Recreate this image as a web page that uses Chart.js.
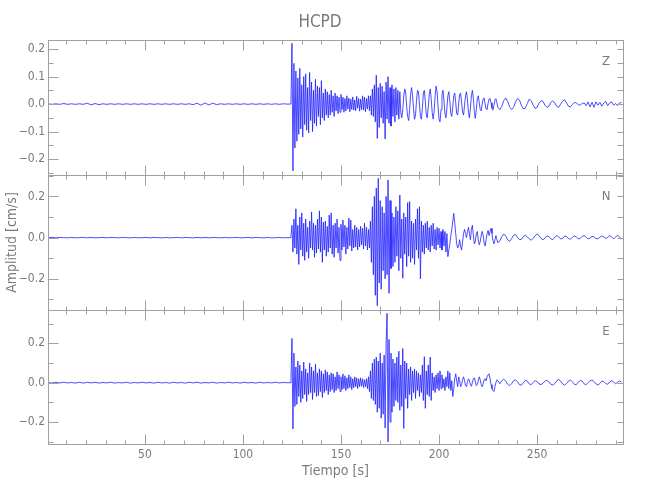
<!DOCTYPE html>
<html>
<head>
<meta charset="utf-8">
<script src="https://cdn.jsdelivr.net/npm/chart.js@4/dist/chart.umd.min.js"></script>
<style>
    html, body { margin: 0; padding: 0; background: #fff; }
    #wrap { position: relative; width: 650px; height: 500px; }
    #wrap canvas { position: absolute; left: 0; }
</style>
</head>
<body>
<div id="wrap">
    <canvas id="chartZ" width="650" height="180" style="top:0px"></canvas>
    <canvas id="chartN" width="650" height="145" style="top:170px"></canvas>
    <canvas id="chartE" width="650" height="195" style="top:305px"></canvas>
</div>
<script>
// time axis (s)
const X_MIN = 0.6;
const X_MAX = 293.8;
const xTicks = [50, 100, 150, 200, 250];

// each trace is sampled in three parts: pre-event (from 0.6 s, every 2 s),
// main event (from 124 s, every 0.5 s) and coda (from 231 s, every 1 s)
const QUIET_T0 = 0.6, QUIET_DT = 2;
const BURST_T0 = 124, BURST_DT = 0.5;
const CODA_T0 = 231, CODA_DT = 1;

// Z component (cm/s)
const zQuiet = [
    0.001, -0.001, 0.001, -0.001, 0.002, -0.001, 0.001, -0.001, 0.001, -0.001,
    0.003, -0.003, 0.002, -0.002, 0.001, -0.001, 0.001, -0.001, 0.001, -0.001,
    0.001, -0.001, 0.001, -0.001, 0.001, -0.001, 0.001, -0.001, 0.001, -0.001,
    0.001, -0.001, 0.001, -0.001, 0.001, -0.001, 0.001, -0.002, 0.003, -0.004,
    0.004, -0.003, 0.003, -0.002, 0.001, -0.001, 0.001, -0.001, 0.001, -0.001,
    0.001, -0.001, 0.001, -0.001, 0.001, -0.001, 0.001, -0.001, 0.001, -0.001,
    0.001, 0.000
];
const zBurst = [
    0.000, 0.004, 0.221, -0.243, 0.148, -0.160, 0.120, -0.135, 0.095, -0.110,
    0.130, -0.090, 0.070, -0.120, 0.100, -0.075, 0.110, -0.095, 0.060, -0.105,
    0.115, -0.060, 0.080, -0.100, 0.050, -0.070, 0.090, -0.080, 0.065, -0.045,
    0.060, -0.075, 0.085, -0.050, 0.040, -0.060, 0.055, -0.040, 0.045, -0.050,
    0.035, -0.040, 0.050, -0.030, 0.030, -0.045, 0.040, -0.025, 0.030, -0.035,
    0.025, -0.030, 0.035, -0.020, 0.025, -0.030, 0.020, -0.025, 0.030, -0.018,
    0.022, -0.028, 0.018, -0.020, 0.026, -0.022, 0.015, -0.024, 0.028, -0.015,
    0.020, -0.026, 0.018, -0.020, 0.030, -0.022, 0.025, -0.028, 0.020, -0.018,
    0.030, -0.025, 0.030, -0.040, 0.055, -0.045, 0.070, -0.065, 0.105, -0.125,
    0.060, -0.085, 0.075, -0.050, 0.065, -0.070, 0.045, -0.127, 0.080, -0.055,
    0.100, -0.070, 0.060, -0.080, 0.070, -0.045, 0.055, -0.065, 0.060, -0.040,
    0.050, -0.055, 0.045, -0.030, -0.050, -0.020, 0.030, 0.055, 0.040, -0.010,
    -0.045, -0.060, -0.020, 0.035, 0.060, 0.030, -0.020, -0.055, -0.040, 0.010,
    0.050, 0.045, 0.000, -0.045, -0.055, -0.015, 0.040, 0.050, 0.010, -0.040,
    -0.050, -0.010, 0.035, 0.055, 0.020, -0.030, -0.055, -0.025, 0.030, 0.065,
    0.045, -0.010, -0.055, -0.065, -0.020, 0.035, 0.050, 0.015, -0.035, -0.050,
    -0.015, 0.030, 0.045, 0.010, -0.035, -0.045, -0.010, 0.030, 0.040, 0.005,
    -0.035, -0.040, 0.000, 0.035, 0.040, 0.005, -0.030, -0.040, -0.005, 0.030,
    0.045, 0.015, -0.030, -0.050, -0.015, 0.030, 0.050, 0.020, -0.030, -0.052,
    -0.020, 0.020, 0.030, 0.005, -0.020, -0.025, 0.000, 0.020, 0.022, 0.000,
    -0.018, -0.020, 0.002, 0.018, 0.020, 0.005, -0.015, -0.022, -0.005, 0.015,
    0.020, 0.005, -0.012
];
const zCoda = [
    -0.020, -0.008, 0.012, 0.022, 0.010, -0.010, -0.020, -0.012, 0.008, 0.020,
    0.015, -0.005, -0.018, -0.015, 0.002, 0.018, 0.012, -0.004, -0.016, -0.012,
    0.004, 0.012, 0.010, -0.004, -0.012, -0.008, 0.006, 0.012, 0.004, -0.008,
    -0.012, 0.000, 0.010, 0.016, 0.004, -0.008, -0.010, -0.002, 0.006, 0.004,
    -0.002, -0.004, 0.002, 0.004, -0.006, 0.008, -0.010, 0.006, -0.012, 0.008,
    -0.004, 0.006, -0.008, 0.004, 0.010, -0.006, 0.004, 0.008, -0.004, 0.002,
    -0.006, 0.004, 0.006
];

// N component (cm/s)
const nQuiet = [
    0.000, 0.001, -0.001, 0.001, 0.000, -0.001, 0.001, -0.001, 0.000, 0.001,
    -0.001, 0.001, -0.001, 0.000, 0.001, -0.001, 0.001, 0.000, -0.001, 0.001,
    0.000, -0.001, 0.001, -0.001, 0.000, 0.001, -0.001, 0.001, 0.000, -0.001,
    0.001, -0.001, 0.000, 0.001, -0.001, 0.001, 0.000, -0.001, 0.001, -0.001,
    0.001, -0.001, 0.001, 0.000, -0.001, 0.001, -0.001, 0.000, 0.001, -0.001,
    0.000, 0.001, -0.001, 0.001, 0.000, -0.001, 0.001, -0.001, 0.000, 0.001,
    -0.001, 0.000
];
const nBurst = [
    0.000, 0.010, 0.060, -0.070, 0.090, -0.050, 0.140, -0.080, 0.060, -0.130,
    0.100, -0.060, 0.120, -0.090, 0.070, -0.110, 0.090, -0.070, 0.050, -0.100,
    0.080, -0.050, 0.125, -0.060, 0.070, -0.095, 0.060, -0.075, 0.090, -0.055,
    0.130, -0.070, 0.100, -0.120, 0.075, -0.060, 0.080, -0.090, 0.055, -0.070,
    0.110, -0.050, 0.120, -0.080, 0.060, -0.095, 0.070, -0.050, 0.090, -0.075,
    0.050, -0.110, 0.065, -0.060, 0.085, -0.045, 0.060, -0.080, 0.050, -0.055,
    0.095, -0.040, 0.085, -0.065, 0.040, -0.050, 0.060, -0.045, 0.050, -0.060,
    0.040, -0.045, 0.055, -0.035, 0.045, -0.055, 0.070, -0.040, 0.050, -0.060,
    0.040, -0.050, 0.080, -0.120, 0.150, -0.180, 0.200, -0.280, 0.240, -0.330,
    0.288, -0.220, 0.180, -0.250, 0.150, -0.160, 0.120, -0.200, 0.200, -0.180,
    0.280, -0.270, 0.180, -0.150, 0.120, -0.140, 0.100, -0.120, 0.150, -0.090,
    0.130, -0.160, 0.207, -0.100, 0.090, -0.197, 0.120, -0.080, 0.100, -0.140,
    0.170, -0.090, 0.175, -0.120, 0.080, -0.100, 0.070, -0.130, 0.090, -0.060,
    0.140, -0.100, 0.150, -0.200, 0.080, -0.070, 0.060, -0.080, 0.070, -0.050,
    0.080, -0.060, 0.050, -0.070, 0.060, -0.040, 0.070, -0.055, 0.040, -0.060,
    0.050, -0.035, 0.045, -0.050, 0.030, -0.060, 0.040, -0.040, 0.030, -0.070,
    0.020, -0.092, -0.060, -0.030, 0.010, 0.040, 0.080, 0.118, 0.070, 0.020,
    -0.030, -0.050, -0.040, -0.010, -0.045, -0.060, -0.020, 0.020, 0.040, 0.020,
    0.000, 0.030, 0.050, 0.020, -0.010, 0.040, 0.060, 0.010, -0.030, -0.020,
    0.020, 0.030, -0.010, -0.035, -0.020, 0.010, 0.030, 0.010, -0.025, -0.040,
    -0.010, 0.020, 0.035, 0.010, 0.030, 0.045, 0.020, -0.015, -0.030, -0.010,
    0.010, -0.010, -0.025
];
const nCoda = [
    -0.015, 0.005, 0.018, 0.008, -0.010, -0.018, -0.005, 0.012, 0.015, 0.002,
    -0.010, -0.008, 0.006, 0.012, 0.004, -0.006, -0.012, -0.004, 0.010, 0.018,
    0.010, -0.004, -0.010, -0.002, 0.008, 0.006, -0.006, -0.010, 0.002, 0.010,
    0.004, -0.006, -0.004, 0.008, 0.006, -0.004, -0.008, 0.002, 0.008, 0.004,
    -0.006, -0.004, 0.006, 0.010, 0.002, -0.006, -0.002, 0.006, 0.004, -0.004,
    -0.006, 0.002, 0.008, 0.004, -0.004, 0.002, 0.010, 0.004, -0.006, 0.002,
    0.012, 0.004, -0.008
];

// E component (cm/s)
const eQuiet = [
    0.001, -0.002, 0.002, -0.001, 0.002, -0.001, 0.001, -0.002, 0.002, -0.002,
    0.002, -0.001, 0.002, -0.002, 0.001, -0.001, 0.002, -0.002, 0.001, -0.001,
    0.002, -0.002, 0.001, -0.001, 0.002, -0.001, 0.001, -0.002, 0.002, -0.001,
    0.001, -0.002, 0.002, -0.001, 0.001, -0.002, 0.002, -0.001, 0.002, -0.002,
    0.001, -0.001, 0.002, -0.002, 0.001, -0.001, 0.002, -0.001, 0.001, -0.002,
    0.002, -0.001, 0.001, -0.002, 0.002, -0.001, 0.001, -0.001, 0.002, -0.001,
    0.001, 0.000
];
const eBurst = [
    0.000, 0.020, 0.225, -0.235, 0.150, -0.120, 0.080, -0.110, 0.110, -0.070,
    0.090, -0.100, 0.060, -0.080, 0.105, -0.060, 0.070, -0.095, 0.050, -0.060,
    0.100, -0.050, 0.080, -0.085, 0.060, -0.050, 0.095, -0.070, 0.050, -0.065,
    0.070, -0.045, 0.060, -0.075, 0.045, -0.050, 0.065, -0.040, 0.055, -0.060,
    0.040, -0.045, 0.050, -0.035, 0.045, -0.050, 0.030, -0.040, 0.055, -0.030,
    0.040, -0.045, 0.030, -0.035, 0.045, -0.030, 0.035, -0.040, 0.025, -0.030,
    0.040, -0.025, 0.030, -0.035, 0.020, -0.025, 0.030, -0.020, 0.025, -0.030,
    0.020, -0.020, 0.025, -0.018, 0.020, -0.025, 0.015, -0.020, 0.020, -0.030,
    0.030, -0.045, 0.060, -0.080, 0.100, -0.090, 0.120, -0.110, 0.130, -0.150,
    0.110, -0.130, 0.150, -0.180, 0.100, -0.160, 0.140, -0.230, 0.200, 0.352,
    -0.300, 0.220, -0.200, 0.150, -0.150, 0.120, -0.120, 0.100, -0.090, 0.130,
    -0.100, 0.160, -0.140, 0.090, -0.120, 0.174, -0.232, 0.110, -0.080, 0.100,
    -0.130, 0.070, -0.060, 0.080, -0.090, 0.060, -0.050, 0.070, -0.080, 0.060,
    -0.040, 0.050, -0.070, 0.040, -0.050, 0.090, -0.090, 0.132, -0.130, 0.060,
    -0.060, 0.090, -0.070, 0.130, -0.090, 0.050, -0.040, 0.030, -0.050, 0.040,
    -0.030, 0.050, -0.040, 0.060, -0.030, 0.040, -0.025, 0.020, -0.040, 0.030,
    -0.020, 0.060, -0.030, 0.050, -0.040, 0.010, -0.070, -0.030, 0.020, 0.045,
    0.010, -0.020, 0.030, 0.010, -0.020, -0.010, 0.015, 0.030, 0.010, -0.015,
    -0.020, 0.005, 0.020, 0.010, -0.010, -0.018, 0.000, 0.020, 0.025, 0.005,
    -0.015, -0.010, 0.010, 0.030, 0.015, -0.010, -0.020, -0.005, 0.015, 0.020,
    0.010, 0.030, 0.040, 0.045, 0.020, -0.010, -0.030, -0.040, -0.045, -0.020,
    0.000, 0.015, 0.010
];
const eCoda = [
    -0.005, 0.010, 0.018, 0.008, -0.008, -0.015, -0.005, 0.010, 0.015, 0.005,
    -0.010, -0.012, 0.000, 0.012, 0.008, -0.006, -0.010, 0.002, 0.010, 0.006,
    -0.006, -0.010, -0.002, 0.008, 0.012, 0.004, -0.008, -0.012, -0.004, 0.010,
    0.016, 0.008, -0.006, -0.012, -0.004, 0.008, 0.014, 0.004, -0.008, -0.010,
    0.002, 0.012, 0.008, -0.006, -0.010, 0.000, 0.010, 0.014, 0.006, -0.006,
    -0.012, -0.004, 0.008, 0.006, -0.004, -0.008, 0.004, 0.010, 0.004, -0.006,
    0.002, 0.008, 0.004
];

// amplitude ranges and labelled ticks per panel
const zRange = [-0.258, 0.233], zTicks = [-0.2, -0.1, 0.0, 0.1, 0.2];
const nRange = [-0.351, 0.304], nTicks = [-0.2, 0.0, 0.2];
const eRange = [-0.311, 0.369], eTicks = [-0.2, 0.0, 0.2];

const AXIS_COLOR = '#a0a0a0';
const TEXT_COLOR = '#7a7a7a';
const LINE_COLOR = 'rgb(30,30,255)';
const FONT = '"Liberation Sans Narrow", "DejaVu Sans Condensed", sans-serif';

function series(parts) {
    const pts = [];
    parts.forEach(function (p) {
        p[2].forEach(function (v, i) {
            pts.push({ x: p[0] + i * p[1], y: v });
        });
    });
    return pts;
}

function fmt(v) {
    return (v < 0 ? '\u2212' : '') + Math.abs(v).toFixed(1);
}

// box with inward tick marks on all four sides, component letter, optional heading
const seisFrame = {
    id: 'seisFrame',
    afterDraw: function (chart, args, o) {
        const ctx = chart.ctx;
        const a = chart.chartArea;
        const xs = chart.scales.x, ys = chart.scales.y;
        const L = Math.round(a.left) + 0.5, R = Math.round(a.right) + 0.5;
        const T = Math.round(a.top) + 0.5, B = Math.round(a.bottom) + 0.5;
        ctx.save();
        ctx.strokeStyle = AXIS_COLOR;
        ctx.lineWidth = 1;
        ctx.strokeRect(L, T, R - L, B - T);
        ctx.beginPath();
        for (let t = 10; t < X_MAX; t += 10) {
            const px = Math.round(xs.getPixelForValue(t)) + 0.5;
            const len = (t % 50 === 0) ? 10 : 4;
            ctx.moveTo(px, T); ctx.lineTo(px, T + len);
            ctx.moveTo(px, B); ctx.lineTo(px, B - len);
        }
        const step = o.minorStep;
        for (let k = Math.ceil(ys.min / step); k * step <= ys.max; k++) {
            const v = k * step;
            const py = Math.round(ys.getPixelForValue(v)) + 0.5;
            const major = o.ticks.some(function (m) { return Math.abs(m - v) < 1e-6; });
            ctx.moveTo(L, py); ctx.lineTo(L + (major ? 10 : 5), py);
            ctx.moveTo(R, py); ctx.lineTo(R - 6, py);
        }
        ctx.stroke();
        ctx.fillStyle = TEXT_COLOR;
        ctx.textAlign = 'center';
        ctx.textBaseline = 'middle';
        ctx.font = '13px ' + FONT;
        ctx.fillText(o.label, a.right - 17, a.top + 22);
        if (o.heading) {
            ctx.font = '17px ' + FONT;
            ctx.fillText(o.heading, 320, 23);
        }
        ctx.restore();
    }
};

function makePanel(id, data, range, ticks, minorStep, label, extra) {
    const bottom = !!extra.bottom;
    return new Chart(document.getElementById(id), {
        type: 'line',
        data: {
            datasets: [{
                data: data,
                borderColor: LINE_COLOR,
                borderWidth: 0.8,
                pointRadius: 0,
                tension: 0,
                fill: false
            }]
        },
        options: {
            responsive: false,
            animation: false,
            events: [],
            layout: { padding: extra.padding },
            plugins: {
                legend: { display: false },
                tooltip: { enabled: false },
                title: { display: false },
                seisFrame: { label: label, ticks: ticks, minorStep: minorStep, heading: extra.heading }
            },
            scales: {
                x: {
                    type: 'linear',
                    min: X_MIN,
                    max: X_MAX,
                    display: bottom,
                    grid: { display: false, drawTicks: false },
                    border: { display: false },
                    afterBuildTicks: function (s) {
                        s.ticks = xTicks.map(function (v) { return { value: v }; });
                    },
                    afterFit: function (s) {
                        if (bottom) s.height = 56;
                        s.paddingLeft = 0;
                        s.paddingRight = 0;
                    },
                    ticks: {
                        color: TEXT_COLOR,
                        font: { family: FONT, size: 12 },
                        padding: 4,
                        maxRotation: 0
                    },
                    title: {
                        display: bottom,
                        text: 'Tiempo [s]',
                        color: TEXT_COLOR,
                        font: { family: FONT, size: 14 },
                        padding: { top: 0, bottom: 20 }
                    }
                },
                y: {
                    type: 'linear',
                    min: range[0],
                    max: range[1],
                    grid: { display: false, drawTicks: false },
                    border: { display: false },
                    afterBuildTicks: function (s) {
                        s.ticks = ticks.map(function (v) { return { value: v }; });
                    },
                    afterFit: function (s) {
                        s.width = 48;
                        s.paddingTop = 0;
                        s.paddingBottom = 0;
                    },
                    ticks: {
                        color: TEXT_COLOR,
                        font: { family: FONT, size: 12 },
                        padding: 3,
                        callback: function (v) { return fmt(v); }
                    },
                    title: {
                        display: !!extra.yTitle,
                        text: 'Amplitud [cm/s]',
                        color: TEXT_COLOR,
                        font: { family: FONT, size: 14 },
                        padding: { top: 4, bottom: 0 }
                    }
                }
            }
        },
        plugins: [seisFrame]
    });
}

makePanel('chartZ',
    series([[QUIET_T0, QUIET_DT, zQuiet], [BURST_T0, BURST_DT, zBurst], [CODA_T0, CODA_DT, zCoda]]),
    zRange, zTicks, 0.05, 'Z', {
        padding: { left: 0, right: 27, top: 40, bottom: 5 },
        heading: 'HCPD'
    });

makePanel('chartN',
    series([[QUIET_T0, QUIET_DT, nQuiet], [BURST_T0, BURST_DT, nBurst], [CODA_T0, CODA_DT, nCoda]]),
    nRange, nTicks, 0.1, 'N', {
        padding: { left: 0, right: 27, top: 5, bottom: 5 },
        yTitle: true
    });

makePanel('chartE',
    series([[QUIET_T0, QUIET_DT, eQuiet], [BURST_T0, BURST_DT, eBurst], [CODA_T0, CODA_DT, eCoda]]),
    eRange, eTicks, 0.1, 'E', {
        padding: { left: 0, right: 27, top: 5, bottom: 0 },
        bottom: true
    });
</script>
</body>
</html>
